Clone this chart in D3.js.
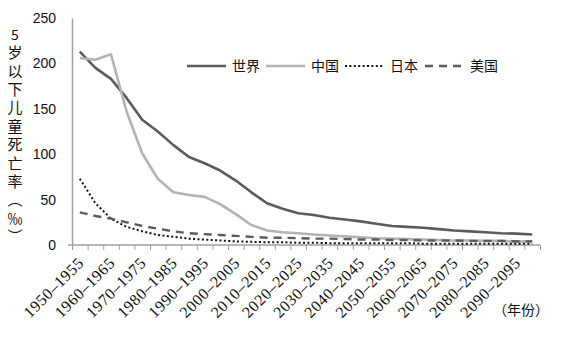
<!DOCTYPE html>
<html>
<head>
<meta charset="utf-8">
<script src="https://cdnjs.cloudflare.com/ajax/libs/d3/7.8.5/d3.min.js"></script>
<style>
 body {margin:0; background:#fff;}
 svg {display:block;}
 .xlab text {font-family: "Liberation Serif", "Times New Roman", serif; font-size: 16px;}
 .vert {writing-mode: vertical-rl; font-family: "Noto Sans CJK SC", sans-serif; font-size: 15px;}
</style>
</head>
<body>
<div id="contenedor"></div>
<script>
var width = 568, height = 339;

// periods 1950-1955 ... 2095-2100
var periodos = d3.range(1950, 2100, 5).map(function(a){ return a + "–" + (a + 5); });

var mundo = [213, 195, 183, 162, 138, 125, 110, 97, 90, 82, 71, 58, 46, 40, 35,
             33, 30, 28, 26, 23.5, 21, 20, 19, 17.5, 16, 15, 14, 13, 12.5, 11.5];
var china = [206, 204, 210, 147, 101, 73, 58, 55, 53, 45, 34, 22, 16, 14, 13,
             11.5, 10.5, 9.5, 8.5, 7.5, 7, 6.5, 6, 5.5, 5, 5, 4.5, 4.5, 4, 4];
var japon = [73, 46, 29, 20, 15, 11, 9, 7, 6, 5, 4, 3.5, 3, 3, 2.5,
             2.5, 2, 2, 2, 2, 2, 2, 1.5, 1.5, 1.5, 1.5, 1.5, 1.5, 1.5, 1.5];
var eeuu  = [36, 32, 29, 25, 21, 18, 15, 13, 12, 11, 10, 9, 8, 8, 7.5,
             7, 7, 6.5, 6, 6, 5.5, 5.5, 5, 5, 5, 4.5, 4.5, 4.5, 4, 4];

var yTicks = [0, 50, 100, 150, 200, 250];

var series = [
  {nombre: "世界", datos: mundo, color: "#5b5b5b", ancho: 2.6, dash: null},
  {nombre: "中国", datos: china, color: "#b3b3b3", ancho: 2.6, dash: null},
  {nombre: "日本", datos: japon, color: "#111", ancho: 2, dash: "2 2.4"},
  {nombre: "美国", datos: eeuu,  color: "#5b5b5b", ancho: 2.4, dash: "8 6"}
];

var m = {left: 72, right: 28, top: 18, bottom: 94};

var svg = d3.select("#contenedor").append("svg")
  .attr("width", width).attr("height", height);

var x = d3.scaleBand().domain(periodos).range([m.left, width - m.right]);
var xb = d3.scaleLinear().domain([0, periodos.length]).range([m.left, width - m.right]);
var y = d3.scaleLinear().domain([0, 250]).range([height - m.bottom, m.top]);
var y0 = y(0);

// y axis
var gy = svg.append("g").attr("transform", "translate(" + m.left + ",0)")
  .call(d3.axisLeft(y).tickValues(yTicks).tickSize(0).tickPadding(16));
gy.select(".domain").attr("stroke", "#a0a0a0").attr("stroke-width", 1.5);
gy.selectAll("text").attr("font-family", "'Liberation Sans', sans-serif")
  .attr("font-size", 14).attr("fill", "#111");

// x axis ticks at the period boundaries
var gx = svg.append("g").attr("transform", "translate(0," + y0 + ")")
  .call(d3.axisBottom(xb).tickValues(d3.range(periodos.length + 1)).tickSize(5).tickFormat(""));
gx.select(".domain").attr("stroke", "#a0a0a0").attr("stroke-width", 1.5)
  .attr("d", "M" + (m.left - 4) + ",0H" + (width - m.right));
gx.selectAll(".tick line").attr("stroke", "#a0a0a0");

// x labels, every second period
var gl = svg.append("g").attr("class", "xlab").attr("transform", "translate(0," + y0 + ")")
  .call(d3.axisBottom(x).tickValues(periodos.filter(function(d, i){ return i % 2 === 0; })).tickSize(0));
gl.attr("font-family", null).attr("font-size", null);
gl.select(".domain").remove();
gl.selectAll("text")
  .attr("letter-spacing", 0.6).attr("fill", "#111")
  .attr("text-anchor", "end").attr("dy", null).attr("y", 0)
  .attr("transform", "translate(5,19) rotate(-45)");

// lines
var linea = d3.line()
  .x(function(d, i){ return x(periodos[i]) + x.bandwidth() / 2; })
  .y(function(d){ return y(d); });

svg.selectAll("path.serie").data(series).enter().append("path")
  .attr("class", "serie")
  .attr("fill", "none")
  .attr("stroke", function(d){ return d.color; })
  .attr("stroke-width", function(d){ return d.ancho; })
  .attr("stroke-dasharray", function(d){ return d.dash; })
  .attr("stroke-linejoin", "round")
  .attr("d", function(d){ return linea(d.datos); });

// legend
var leyX = [187, 266, 345, 425];
var ley = svg.selectAll("g.ley").data(series).enter().append("g")
  .attr("class", "ley")
  .attr("transform", function(d, i){ return "translate(" + leyX[i] + ",66)"; });
ley.append("line").attr("x1", 0).attr("x2", 39).attr("y1", 0).attr("y2", 0)
  .attr("stroke", function(d){ return d.color; })
  .attr("stroke-width", function(d){ return d.ancho; })
  .attr("stroke-dasharray", function(d){ return d.dash; });
ley.append("text").attr("x", 45).attr("y", 5)
  .attr("font-family", "'Noto Sans CJK SC', sans-serif").attr("font-size", 14)
  .attr("fill", "#111")
  .text(function(d){ return d.nombre; });

// y title, vertical
svg.append("text").attr("x", 15).attr("y", 40).attr("text-anchor", "middle")
  .attr("font-family", "'Noto Sans CJK SC', sans-serif").attr("font-size", 14)
  .attr("fill", "#111").text("5");
svg.append("text").attr("class", "vert")
  .attr("x", 15).attr("y", 45)
  .attr("letter-spacing", 3.4)
  .attr("fill", "#111")
  .text("岁以下儿童死亡率（‰）");

// x title
svg.append("text").attr("x", 549).attr("y", 315).attr("text-anchor", "end")
  .attr("font-family", "'Noto Sans CJK SC', sans-serif").attr("font-size", 14)
  .attr("fill", "#111")
  .text("（年份）");
</script>
</body>
</html>
